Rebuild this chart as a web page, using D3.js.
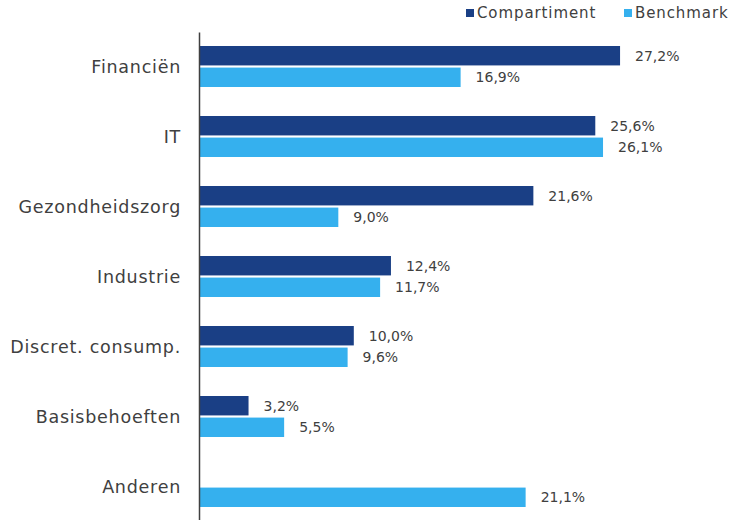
<!DOCTYPE html>
<html>
<head>
<meta charset="utf-8">
<script src="https://cdn.jsdelivr.net/npm/d3@7"></script>
<style>
  body { margin: 0; background: #fff; }
  svg { font-family: 'DejaVu Sans', sans-serif; }
</style>
</head>
<body>
<svg id="chart"></svg>
<script>
const categories = ['Financiën', 'IT', 'Gezondheidszorg', 'Industrie', 'Discret. consump.', 'Basisbehoeften', 'Anderen'];
const seriesNames = ['Compartiment', 'Benchmark'];
const compartiment = [27.2, 25.6, 21.6, 12.4, 10.0, 3.2, null];
const benchmark = [16.9, 26.1, 9.0, 11.7, 9.6, 5.5, 21.1];
const colors = ['#1a3f85', '#35b0ee'];

const width = 749;
const height = 520;
const margin = { top: 32, right: 20, bottom: -2, left: 199 };

const svg = d3.select('#chart')
  .attr('width', width)
  .attr('height', height);

const data = categories.map((c, i) => ({
  category: c,
  values: [
    { series: seriesNames[0], value: compartiment[i] },
    { series: seriesNames[1], value: benchmark[i] },
  ],
}));

const yScale = d3.scaleBand()
  .domain(categories)
  .range([margin.top, height - margin.bottom]);

const ySub = d3.scaleBand()
  .domain(seriesNames)
  .range([14, 55])
  .paddingInner(0.1);

const xScale = d3.scaleLinear()
  .domain([0, 30])
  .range([margin.left, margin.left + 30 * 15.48]);

const color = d3.scaleOrdinal().domain(seriesNames).range(colors);
const fmt = v => d3.format('.1f')(v).replace('.', ',') + '%';

// groups + bars
const groups = svg.append('g')
  .selectAll('g')
  .data(data)
  .enter()
  .append('g')
  .attr('transform', d => `translate(0,${yScale(d.category)})`);

groups.selectAll('rect')
  .data(d => d.values.filter(v => v.value != null))
  .enter()
  .append('rect')
  .attr('x', xScale(0))
  .attr('y', d => ySub(d.series))
  .attr('width', d => xScale(d.value) - xScale(0))
  .attr('height', ySub.bandwidth())
  .attr('fill', d => color(d.series));

// value labels
groups.selectAll('text')
  .data(d => d.values.filter(v => v.value != null))
  .enter()
  .append('text')
  .attr('x', d => xScale(d.value) + 15)
  .attr('y', d => ySub(d.series) + ySub.bandwidth() / 2)
  .attr('dy', '0.35em')
  .attr('font-size', 14)
  .attr('fill', '#404040')
  .text(d => fmt(d.value));

// y axis
const yAxis = svg.append('g')
  .attr('class', 'y-axis')
  .attr('transform', `translate(${margin.left},0)`)
  .call(d3.axisLeft(yScale).tickSize(0).tickPadding(18));
yAxis.select('.domain').attr('stroke', '#404040').attr('stroke-width', 1.5);
yAxis.selectAll('text')
  .attr('font-size', 17.5)
  .attr('letter-spacing', 0.75)
  .attr('font-family', "'DejaVu Sans', sans-serif")
  .attr('fill', '#404040');

// legend
const legendX = [466, 624];
const legend = svg.append('g')
  .selectAll('g')
  .data(seriesNames)
  .enter()
  .append('g')
  .attr('transform', (d, i) => `translate(${legendX[i]},0)`);
legend.append('rect')
  .attr('x', 0)
  .attr('y', 9)
  .attr('width', 8)
  .attr('height', 8)
  .attr('fill', d => color(d));
legend.append('text')
  .attr('x', 11)
  .attr('y', 13)
  .attr('dy', '0.35em')
  .attr('font-size', 15)
  .attr('letter-spacing', 0.9)
  .attr('fill', '#404040')
  .text(d => d);
</script>
</body>
</html>
